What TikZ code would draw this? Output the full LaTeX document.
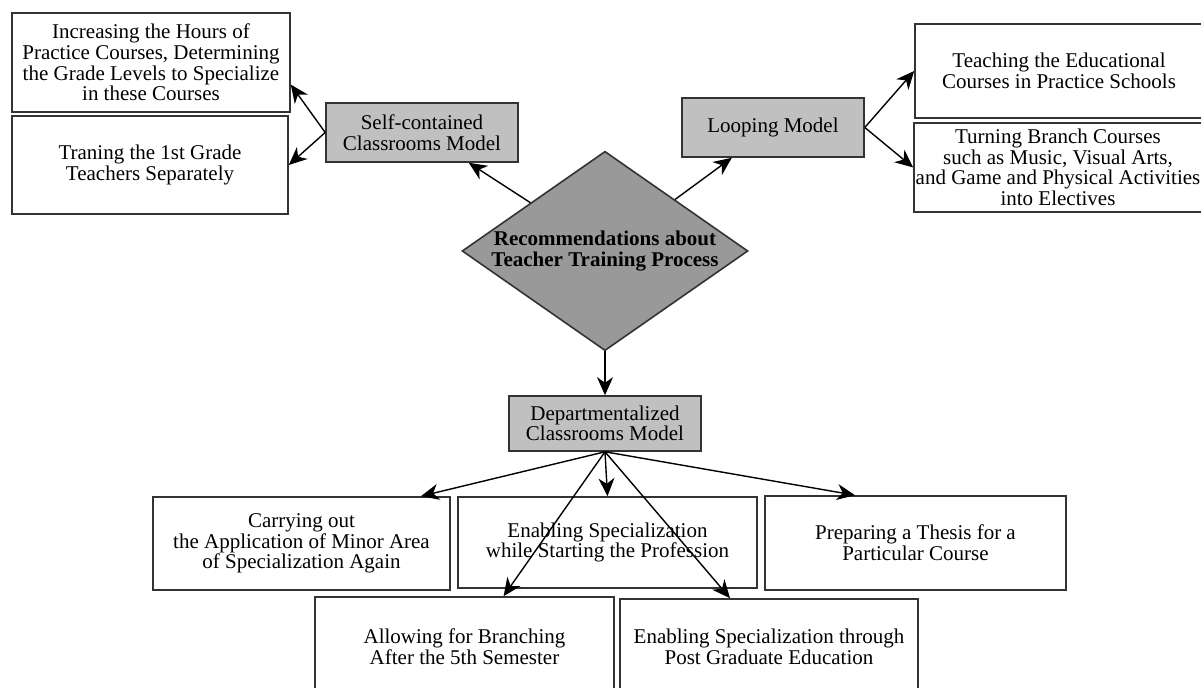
\documentclass[tikz,border=0pt]{standalone}
\usepackage{fontspec}
\setmainfont{Liberation Serif}
\usetikzlibrary{arrows.meta,shapes.geometric,calc}
\definecolor{boxgray}{RGB}{192,192,192}
\definecolor{hubgray}{RGB}{153,153,153}

\begin{document}
\begin{tikzpicture}[x=0.5pt,y=-0.5pt,
    every node/.style={font=\fontsize{10.5}{10.3}\selectfont,align=center,inner sep=0.5pt},
    txtbox/.style={draw=black!80,line width=0.8pt,fill=white},
    modelbox/.style={txtbox,fill=boxgray},
    hub/.style={diamond,draw=black!80,line width=0.8pt,fill=hubgray,inner sep=0pt,
      shape aspect=1.434,font=\fontsize{10.5}{10.9}\selectfont\bfseries},
    link/.style={draw=black,line width=0.7pt,-{Stealth[length=9pt,width=8pt,inset=2.8pt]}}]
     \useasboundingbox (0,0) rectangle (1201,688);
     % centre
     \node[hub,minimum width=142pt,minimum height=99pt] (rec) at (605,251)
       {Recommendations about\\Teacher Training Process};
     % the three models
     \node[modelbox,minimum width=96pt,minimum height=29.5pt] (selfc) at (422,132.5)
       {Self-contained\\Classrooms Model};
     \node[modelbox,minimum width=91pt,minimum height=29.5pt] (loop) at (773,127.5)
       {Looping Model};
     \node[modelbox,minimum width=96pt,minimum height=27.5pt] (dept) at (605,423.5)
       {Departmentalized\\Classrooms Model};
     % left
     \node[txtbox,minimum width=139pt,minimum height=49.5pt] (incA) at (151,62.5)
       {Increasing the Hours of\\Practice Courses, Determining\\the Grade Levels to Specialize\\in these Courses};
     \node[txtbox,minimum width=138pt,minimum height=49pt] (trainB) at (150,165)
       {Traning the 1st Grade\\Teachers Separately};
     % right
     \node[txtbox,minimum width=144pt,minimum height=47pt] (teach) at (1059,71)
       {Teaching the Educational\\Courses in Practice Schools};
     \node[txtbox,minimum width=144pt,minimum height=44.5pt] (turn) at (1058,167.5)
       {Turning Branch Courses\\such as Music, Visual Arts,\\and Game and Physical Activities\\into Electives};
     % bottom
     \node[txtbox,minimum width=148.5pt,minimum height=46.5pt] (carry) at (301.5,543.5)
       {Carrying out\\the Application of Minor Area\\of Specialization Again};
     \node[txtbox,minimum width=149.5pt,minimum height=45.5pt] (enab) at (607.5,542.5)
       {Enabling Specialization\\while Starting the Profession};
     \node[txtbox,minimum width=150.5pt,minimum height=47pt] (prep) at (915.5,543)
       {Preparing a Thesis for a\\Particular Course};
     \node[txtbox,minimum width=149.5pt,minimum height=50pt] (allow) at (464.5,647)
       {Allowing for Branching\\After the 5th Semester};
     \node[txtbox,minimum width=149pt,minimum height=48pt] (postg) at (769,647)
       {Enabling Specialization through\\Post Graduate Education};
     % arrows
     \draw[link] (rec) -- (selfc);
     \draw[link] (rec) -- (loop);
     \draw[link] (rec.south) -- (dept.north);
     \draw[link] (selfc.west) -- (incA.-9);
     \draw[link] (selfc.west) -- (trainB.east);
     \draw[link] (loop.east) -- (teach.west);
     \draw[link] (loop.east) -- (turn.west);
     \foreach \target/\pos in {carry/0.9,enab/0.5,prep/0.3,allow/0.63,postg/0.37} {
      \draw[link] (dept.south) -- ($(\target.north west)!\pos!(\target.north east)$);
     }
    \end{tikzpicture}
\end{document}
